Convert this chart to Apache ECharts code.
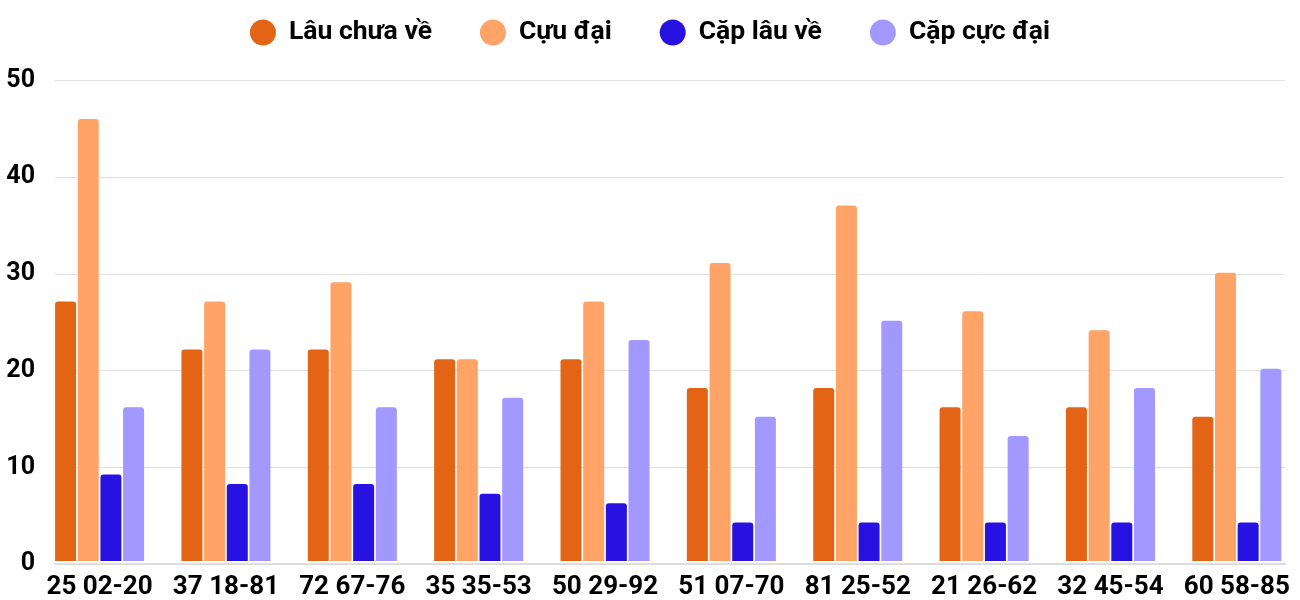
<!DOCTYPE html>
<html>
<head>
<meta charset="utf-8">
<script src="https://cdn.jsdelivr.net/npm/echarts@6/dist/echarts.min.js"></script>
<style>
  html, body { margin: 0; padding: 0; background: #fff; }
  #chart { width: 1300px; height: 600px; }
</style>
</head>
<body>
<div id="chart"></div>
<script>
var categories = [
  "25 02-20", "37 18-81", "72 67-76", "35 35-53", "50 29-92",
  "51 07-70", "81 25-52", "21 26-62", "32 45-54", "60 58-85"
];

var seriesNames = ["Lâu chưa về", "Cựu đại", "Cặp lâu về", "Cặp cực đại"];
var seriesColors = ["#e36414", "#ffa366", "#2812e2", "#a298ff"];

var lauChuaVe = [27, 22, 22, 21, 21, 18, 18, 16, 16, 15];
var cuuDai = [46, 27, 29, 21, 27, 31, 37, 26, 24, 30];
var capLauVe = [9, 8, 8, 7, 6, 4, 4, 4, 4, 4];
var capCucDai = [16, 22, 16, 17, 23, 15, 25, 13, 18, 20];

var yTicks = [0, 10, 20, 30, 40, 50];

var font = "Roboto";
var chart = echarts.init(document.getElementById("chart"));

var allValues = [lauChuaVe, cuuDai, capLauVe, capCucDai];
var series = allValues.map(function(vals, i) {
  return {
    name: seriesNames[i],
    type: "bar",
    xAxisIndex: 1,
    yAxisIndex: 1,
    barWidth: 21,
    barGap: "8%",
    itemStyle: { color: seriesColors[i], borderRadius: [3, 3, 0, 0] },
    data: vals
  };
});

chart.setOption({
  animation: false,
  color: seriesColors,
  legend: {
    top: 14,
    left: "center",
    icon: "circle",
    itemWidth: 26,
    itemHeight: 26,
    itemGap: 48,
    data: seriesNames,
    textStyle: {
      fontFamily: font,
      fontSize: 26.5,
      fontWeight: "bold",
      color: "#000",
      padding: [0, 0, 0, 8]
    }
  },
  grid: [
    // gridlines + y labels
    { left: 55, right: 15, top: 80.5, bottom: 36 },
    // bars, a bit wider so the outer groups touch the gridline ends
    { left: 36.4, width: 1267.2, top: 80.5, bottom: 36 }
  ],
  xAxis: [
    {
      gridIndex: 0,
      type: "category",
      data: categories,
      axisLine: { show: true, lineStyle: { color: "#dddddd", width: 2 } },
      axisTick: { show: false },
      axisLabel: { show: false }
    },
    {
      gridIndex: 1,
      type: "category",
      data: categories,
      axisLine: { show: false },
      axisTick: { show: false },
      axisLabel: {
        interval: 0,
        margin: 13,
        fontFamily: font,
        fontSize: 26,
        fontWeight: "bold",
        color: "#000"
      }
    }
  ],
  yAxis: [
    {
      gridIndex: 0,
      type: "value",
      min: yTicks[0],
      max: yTicks[yTicks.length - 1],
      interval: 10,
      axisLine: { show: false },
      axisTick: { show: false },
      splitLine: { lineStyle: { color: "#e0e0e0", width: 1 } },
      axisLabel: {
        margin: 20,
        fontFamily: font,
        fontSize: 25,
        fontWeight: "bold",
        color: "#000"
      }
    },
    {
      gridIndex: 1,
      type: "value",
      min: yTicks[0],
      max: yTicks[yTicks.length - 1],
      interval: 10,
      show: false,
      splitLine: { show: false }
    }
  ],
  series: series
});
</script>
</body>
</html>
